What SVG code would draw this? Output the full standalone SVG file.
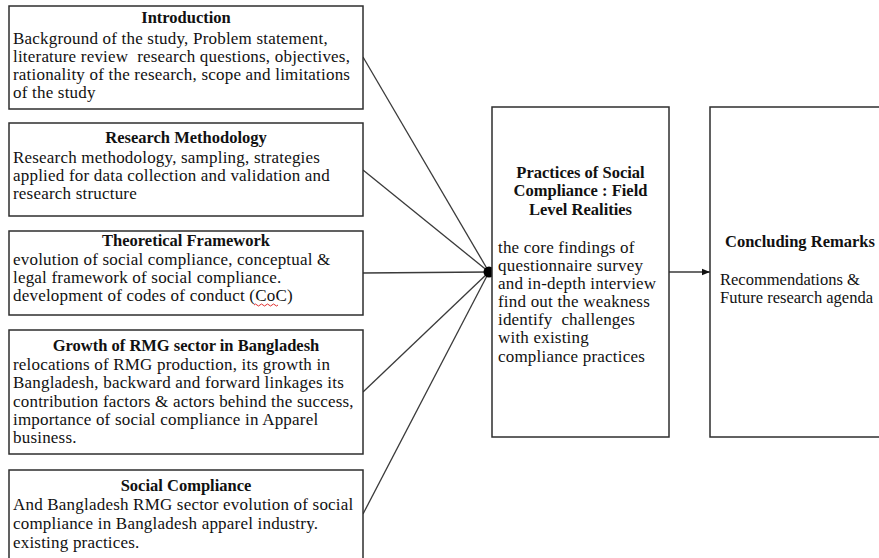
<svg xmlns="http://www.w3.org/2000/svg" width="879" height="558" viewBox="0 0 879 558">
  <style>
    .box { fill: #ffffff; stroke: #2e2e2e; stroke-width: 1.5; }
    .conn { fill: none; stroke: #3a3a3a; stroke-width: 1.3; }
    text { font-family: "Liberation Serif", "Times New Roman", serif; font-size: 16.5px; fill: #111111; }
    .body { font-size: 17px; letter-spacing: 0.2px; }
    .title { font-weight: bold; text-anchor: middle; }
    .ltitle { font-weight: bold; }
  </style>
  <defs>
    <marker id="arrow" viewBox="0 0 10 10" refX="10" refY="5" markerWidth="8" markerHeight="8" markerUnits="userSpaceOnUse" orient="auto">
      <path d="M0,1 L10,5 L0,9 Z" fill="#111111"/>
    </marker>
  </defs>
  <rect width="879" height="558" fill="#ffffff"/>

  <!-- connectors: five chapters join at one point, then flow to the conclusion -->
  <g id="connectors">
    <line class="conn" x1="363" y1="57" x2="489" y2="272"/>
    <line class="conn" x1="363" y1="170" x2="489" y2="272"/>
    <line class="conn" x1="363" y1="273" x2="489" y2="272"/>
    <line class="conn" x1="363" y1="392" x2="489" y2="272"/>
    <line class="conn" x1="363" y1="514" x2="489" y2="272"/>
    <circle cx="489" cy="272" r="5.5" fill="#000000"/>
    <line class="conn" x1="669" y1="272" x2="710" y2="272" marker-end="url(#arrow)"/>
  </g>

  <g id="introduction">
    <rect class="box" x="9" y="6" width="354" height="103"/>
    <text class="title" x="186" y="23">Introduction</text>
    <text class="body" x="13" y="44">Background of the study, Problem statement,</text>
    <text class="body" x="13" y="62" xml:space="preserve">literature review  research questions, objectives,</text>
    <text class="body" x="13" y="80">rationality of the research, scope and limitations</text>
    <text class="body" x="13" y="98">of the study</text>
  </g>

  <g id="research-methodology">
    <rect class="box" x="9" y="123" width="354" height="93"/>
    <text class="title" x="186" y="143">Research Methodology</text>
    <text class="body" x="13" y="163">Research methodology, sampling, strategies</text>
    <text class="body" x="13" y="181">applied for data collection and validation and</text>
    <text class="body" x="13" y="199">research structure</text>
  </g>

  <g id="theoretical-framework">
    <rect class="box" x="9" y="231" width="354" height="84"/>
    <text class="title" x="186" y="246">Theoretical Framework</text>
    <text class="body" x="13" y="265">evolution of social compliance, conceptual &amp;</text>
    <text class="body" x="13" y="283">legal framework of social compliance.</text>
    <text class="body" x="13" y="301">development of codes of conduct (CoC)</text>
    <path d="M254,305 q1.5,-2 3,0 t3,0 t3,0 t3,0 t3,0 t3,0 t3,0 t3,0" fill="none" stroke="#e03030" stroke-width="1"/>
  </g>

  <g id="rmg-growth">
    <rect class="box" x="9" y="330" width="354" height="124"/>
    <text class="title" x="186" y="351">Growth of RMG sector in Bangladesh</text>
    <text class="body" x="13" y="370">relocations of RMG production, its growth in</text>
    <text class="body" x="13" y="388">Bangladesh, backward and forward linkages its</text>
    <text class="body" x="13" y="407">contribution factors &amp; actors behind the success,</text>
    <text class="body" x="13" y="425">importance of social compliance in Apparel</text>
    <text class="body" x="13" y="443">business.</text>
  </g>

  <g id="social-compliance">
    <rect class="box" x="9" y="470" width="354" height="95"/>
    <text class="title" x="186" y="491">Social Compliance</text>
    <text class="body" x="13" y="510">And Bangladesh RMG sector evolution of social</text>
    <text class="body" x="13" y="529">compliance in Bangladesh apparel industry.</text>
    <text class="body" x="13" y="548">existing practices.</text>
  </g>

  <g id="field-realities">
    <rect class="box" x="492" y="107" width="177" height="330"/>
    <text class="title" x="580.5" y="178">Practices of Social</text>
    <text class="title" x="580.5" y="196">Compliance : Field</text>
    <text class="title" x="580.5" y="215">Level Realities</text>
    <text class="body" x="498" y="253">the core findings of</text>
    <text class="body" x="498" y="271">questionnaire survey</text>
    <text class="body" x="498" y="289">and in-depth interview</text>
    <text class="body" x="498" y="307">find out the weakness</text>
    <text class="body" x="498" y="325" xml:space="preserve">identify  challenges</text>
    <text class="body" x="498" y="343">with existing</text>
    <text class="body" x="498" y="362">compliance practices</text>
  </g>

  <g id="concluding-remarks">
    <rect class="box" x="710" y="107" width="180" height="330"/>
    <text class="ltitle" x="725" y="247">Concluding Remarks</text>
    <text x="720" y="285">Recommendations &amp;</text>
    <text x="720" y="303">Future research agenda</text>
  </g>
</svg>
